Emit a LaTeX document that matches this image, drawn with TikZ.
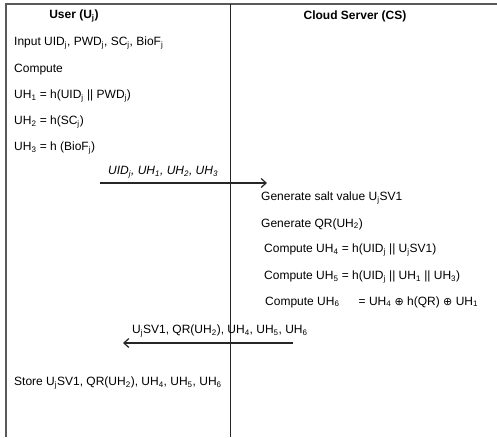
\documentclass[tikz,border=0pt]{standalone}
\usepackage{fontspec}
\setmainfont{Liberation Sans}
\newfontfamily\symfont{DejaVu Sans}
\usetikzlibrary{arrows.meta}
\newcommand{\sbs}[1]{\textsubscript{#1}}
\newcommand{\xor}{{\symfont\fontsize{11}{12}\selectfont ⊕}}
\begin{document}
\begin{tikzpicture}[x=1pt,y=-1pt,
  txt/.style={anchor=west,inner sep=0pt,font=\fontsize{12}{14}\selectfont},
  head/.style={inner sep=0pt,font=\bfseries\fontsize{12}{14}\selectfont},
  frame/.style={draw=black!65,line width=1.3pt},
  life/.style={draw=black!85,line width=1pt},
  msg/.style={draw=black!85,line width=1.2pt,-{Straight Barb[length=5pt,width=9pt,line width=1.2pt]}}]
\useasboundingbox (0,0) rectangle (497,437);
\fill[white] (0,0) rectangle (497,437);
% frame
\coordinate (tl) at (6,4);
\coordinate (tr) at (497,4);
\coordinate (bl) at (6,437);
\draw[frame] (tr) -- (tl) -- (bl);
\coordinate (mt) at (230,4);
\coordinate (mb) at (230,437);
\draw[life] (mt) -- (mb);
% headers
\node[head] (user) at (74,16) {User (U\sbs{j})};
\node[head] (cs) at (355,16) {Cloud Server (CS)};
% user side
\node[txt] (u1) at (14,43) {Input UID\sbs{j}, PWD\sbs{j}, SC\sbs{j}, BioF\sbs{j}};
\node[txt] (u2) at (14,70) {Compute};
\node[txt] (u3) at (14,96) {UH\sbs{1} = h(UID\sbs{j} || PWD\sbs{j})};
\node[txt] (u4) at (14,122) {UH\sbs{2} = h(SC\sbs{j})};
\node[txt] (u5) at (14,148) {UH\sbs{3} = h (BioF\sbs{j})};
% message 1
\coordinate (m1s) at (100,183);
\coordinate (m1e) at (267,183);
\draw[msg] (m1s) -- (m1e);
\node[txt,font=\itshape\fontsize{12}{14}\selectfont] (l1) at (108,172) {UID\sbs{j}, UH\sbs{1}, UH\sbs{2}, UH\sbs{3}};
% server side
\node[txt] (s1) at (261,198) {Generate salt value U\sbs{j}SV1};
\node[txt] (s2) at (261,224) {Generate QR(UH\sbs{2})};
\node[txt] (s3) at (264,250) {Compute UH\sbs{4} = h(UID\sbs{j} || U\sbs{j}SV1)};
\node[txt] (s4) at (264,277) {Compute UH\sbs{5} = h(UID\sbs{j} || UH\sbs{1} || UH\sbs{3})};
\node[txt] (s5) at (265,302) {Compute UH\sbs{6}\hspace{1.6em}= UH\sbs{4} \xor{} h(QR) \xor{} UH\sbs{1}};
% message 2
\coordinate (m2s) at (293,343);
\coordinate (m2e) at (123,343);
\draw[msg] (m2s) -- (m2e);
\node[txt] (l2) at (132,331) {U\sbs{j}SV1, QR(UH\sbs{2}), UH\sbs{4}, UH\sbs{5}, UH\sbs{6}};
% store
\node[txt] (u6) at (14,383) {Store U\sbs{j}SV1, QR(UH\sbs{2}), UH\sbs{4}, UH\sbs{5}, UH\sbs{6}};
\end{tikzpicture}
\end{document}
